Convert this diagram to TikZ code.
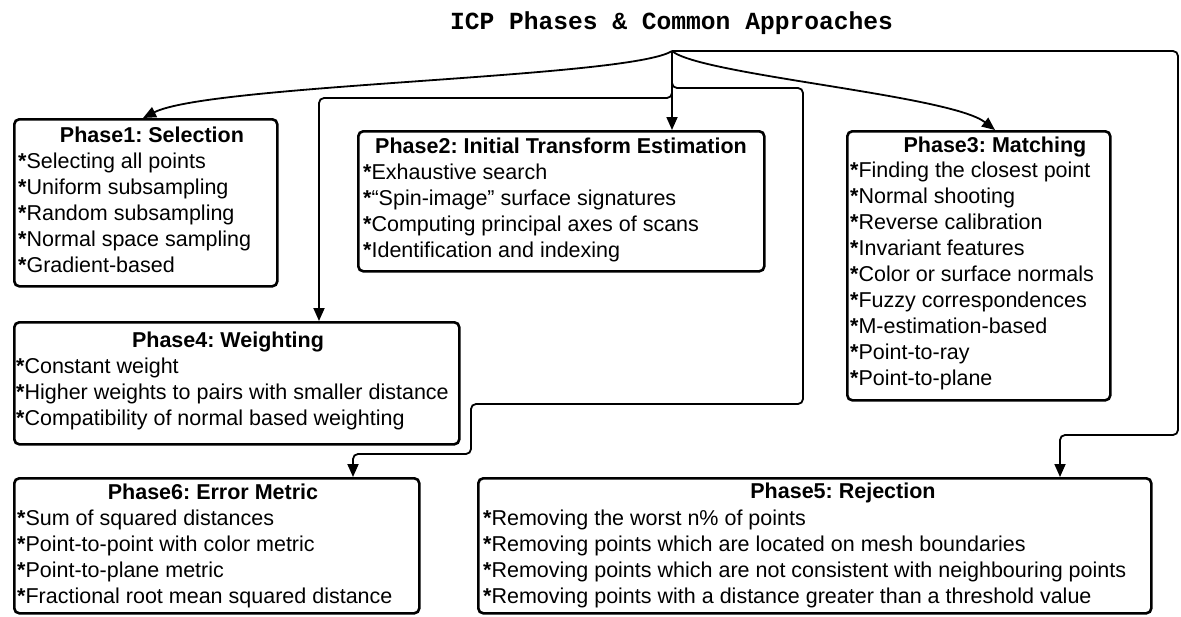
\documentclass[tikz,border=0pt]{standalone}
\usepackage{fontspec}
\setmainfont{Liberation Sans}
\newfontfamily\headmono{Liberation Mono}
\usetikzlibrary{arrows.meta,calc}
\frenchspacing
\begin{document}
\begin{tikzpicture}[x=1pt,y=-1pt,
  phasebox/.style={draw, line width=2.6pt, rounded corners=5pt, inner sep=0pt, anchor=north west},
  heading/.style={font=\fontsize{21.5}{26}\selectfont\bfseries, inner sep=0pt, anchor=base},
  entry/.style={font=\fontsize{21.5}{26}\selectfont, inner sep=0pt, anchor=base west},
  link/.style={line width=1.8pt, rounded corners=5pt, -{Triangle[length=13pt,width=11pt]}}]
\useasboundingbox (0,0) rectangle (1181,616);

% title
\node[font=\headmono\bfseries\fontsize{24.6}{30}\selectfont, inner sep=0pt, anchor=base]
  (title) at (671.5,29) {ICP Phases \& Common Approaches};

% phase boxes
\node[phasebox, minimum width=263pt, minimum height=167pt] (b1) at (13,118) {};
\node[phasebox, minimum width=406pt, minimum height=140pt] (b2) at (357,130) {};
\node[phasebox, minimum width=263pt, minimum height=269pt] (b3) at (846,130) {};
\node[phasebox, minimum width=445pt, minimum height=122pt] (b4) at (13,321) {};
\node[phasebox, minimum width=673pt, minimum height=135pt] (b5) at (477,477) {};
\node[phasebox, minimum width=405pt, minimum height=135pt] (b6) at (13,477) {};

% Phase 1
\node[heading] (h1) at (152,142) {Phase1: Selection};
\foreach \t [count=\i from 0] in {Selecting all points, Uniform subsampling,
    Random subsampling, Normal space sampling, Gradient-based}
  \node[entry] (e1-\i) at (18,{168+26*\i}) {\textbf{*}\t};

% Phase 2
\node[heading] (h2) at (561,153) {Phase2: Initial Transform Estimation};
\foreach \t [count=\i from 0] in {Exhaustive search, “Spin-image” surface signatures,
    Computing principal axes of scans, Identification and indexing}
  \node[entry] (e2-\i) at (363,{179+26*\i}) {\textbf{*}\t};

% Phase 3
\node[heading] (h3) at (995,152) {Phase3: Matching};
\foreach \t [count=\i from 0] in {Finding the closest point, Normal shooting,
    Reverse calibration, Invariant features, Color or surface normals,
    Fuzzy correspondences, M-estimation-based, Point-to-ray, Point-to-plane}
  \node[entry] (e3-\i) at (850,{177+26*\i}) {\textbf{*}\t};

% Phase 4
\node[heading] (h4) at (228,347) {Phase4: Weighting};
\foreach \t [count=\i from 0] in {Constant weight,
    Higher weights to pairs with smaller distance,
    Compatibility of normal based weighting}
  \node[entry] (e4-\i) at (16,{373+26*\i}) {\textbf{*}\t};

% Phase 5
\node[heading] (h5) at (843,498) {Phase5: Rejection};
\foreach \t [count=\i from 0] in {Removing the worst n\% of points,
    Removing points which are located on mesh boundaries,
    Removing points which are not consistent with neighbouring points,
    Removing points with a distance greater than a threshold value}
  \node[entry] (e5-\i) at (483,{525+26*\i}) {\textbf{*}\t};

% Phase 6
\node[heading] (h6) at (213,499) {Phase6: Error Metric};
\foreach \t [count=\i from 0] in {Sum of squared distances,
    Point-to-point with color metric, Point-to-plane metric,
    Fractional root mean squared distance}
  \node[entry] (e6-\i) at (17,{525+26*\i}) {\textbf{*}\t};

% connectors from the common hub
\coordinate (hub) at (672,51);
\draw[link] (hub) .. controls (630,78) and (210,84) .. ($(b1.north west)+(130,0)$);
\draw[link] (hub) -- (hub |- b2.north west);
\draw[link] (hub) .. controls (700,75) and (950,95) .. ($(b3.north west)+(149,0)$);
\draw[link] (hub) -- ++(0,47) -| ($(b4.north west)+(306,0)$);
\draw[link] (hub) -- (1178,51) -- (1178,435) -| ($(b5.north west)+(583,0)$);
\draw[link] (hub) -- ++(0,37) -- (803,88) -- (803,404) -- (471,404) -- (471,454)
  -| ($(b6.north west)+(340,0)$);
\end{tikzpicture}
\end{document}
